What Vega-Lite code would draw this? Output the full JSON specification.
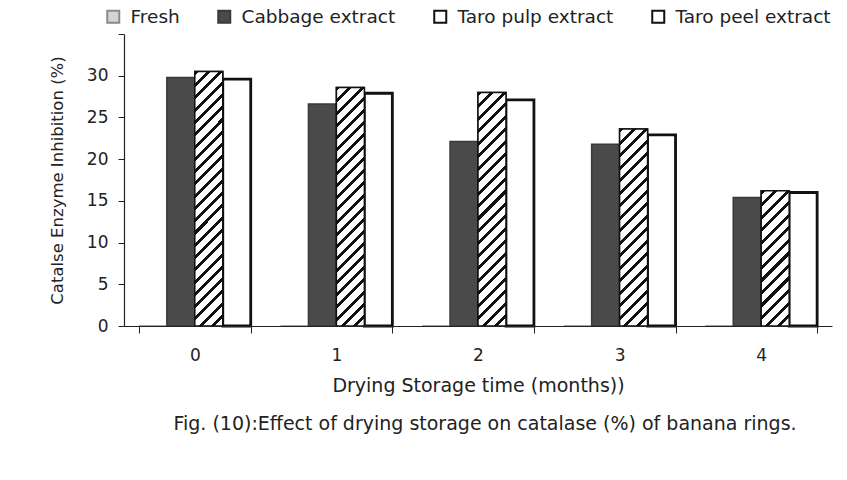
{
  "$schema": "https://vega.github.io/schema/vega-lite/v6.json",
  "width": 708,
  "height": 292,
  "autosize": {"type": "none"},
  "padding": {"left": 124, "top": 34, "right": 15, "bottom": 154},
  "background": "#ffffff",
  "config": {"view": {"stroke": null}, "axis": {"grid": false}, "font": "DejaVu Sans"},
  "title": {"text": "Fig. (10):Effect of drying storage on catalase (%) of banana rings.", "orient": "bottom", "anchor": "middle", "frame": "group", "offset": 20, "dx": 7, "font": "DejaVu Sans", "fontSize": 19, "fontWeight": "normal", "color": "#222"},
  "data": {"values": [
    {"time": 0, "treatment": "Fresh", "value": 0},
    {"time": 0, "treatment": "Cabbage extract", "value": 29.8},
    {"time": 0, "treatment": "Taro pulp extract", "value": 30.5},
    {"time": 0, "treatment": "Taro peel extract", "value": 29.6},
    {"time": 1, "treatment": "Fresh", "value": 0},
    {"time": 1, "treatment": "Cabbage extract", "value": 26.6},
    {"time": 1, "treatment": "Taro pulp extract", "value": 28.6},
    {"time": 1, "treatment": "Taro peel extract", "value": 27.9},
    {"time": 2, "treatment": "Fresh", "value": 0},
    {"time": 2, "treatment": "Cabbage extract", "value": 22.1},
    {"time": 2, "treatment": "Taro pulp extract", "value": 28.0},
    {"time": 2, "treatment": "Taro peel extract", "value": 27.1},
    {"time": 3, "treatment": "Fresh", "value": 0},
    {"time": 3, "treatment": "Cabbage extract", "value": 21.8},
    {"time": 3, "treatment": "Taro pulp extract", "value": 23.6},
    {"time": 3, "treatment": "Taro peel extract", "value": 22.9},
    {"time": 4, "treatment": "Fresh", "value": 0},
    {"time": 4, "treatment": "Cabbage extract", "value": 15.4},
    {"time": 4, "treatment": "Taro pulp extract", "value": 16.2},
    {"time": 4, "treatment": "Taro peel extract", "value": 16.0}
  ]},
  "encoding": {
    "x": {"field": "time", "type": "ordinal", "scale": {"paddingInner": 0.21, "paddingOuter": 0.105},
      "axis": {"title": "Drying Storage time (months))", "labelAngle": 0, "tickBand": "extent", "tickSize": 7, "labelPadding": 14, "labelFont": "DejaVu Sans", "labelFontSize": 17, "labelColor": "#222", "domainColor": "#222", "tickColor": "#222", "domainWidth": 1.2, "titleFont": "DejaVu Sans", "titleFontSize": 19, "titleFontWeight": "normal", "titleColor": "#222", "titlePadding": 13, "zindex": 1}},
    "xOffset": {"field": "treatment", "type": "nominal", "scale": {"domain": ["Fresh", "Cabbage extract", "Taro pulp extract", "Taro peel extract"], "paddingInner": 0, "paddingOuter": 0}},
    "y": {"field": "value", "type": "quantitative", "scale": {"domain": [0, 35], "nice": false},
      "axis": {"title": "Catalse Enzyme Inhibition (%)", "values": [0, 5, 10, 15, 20, 25, 30, 35], "labelExpr": "datum.value == 35 ? '' : datum.label", "tickSize": 6, "labelPadding": 10, "labelFont": "DejaVu Sans", "labelFontSize": 17, "labelColor": "#222", "domainColor": "#222", "tickColor": "#222", "domainWidth": 1.2, "titleFont": "DejaVu Sans", "titleFontSize": 16.5, "titleFontWeight": "normal", "titleColor": "#222", "titlePadding": 21, "zindex": 1}}
  },
  "layer": [
    {
      "mark": {"type": "bar", "strokeWidth": 1.5},
      "encoding": {
        "fill": {"field": "treatment", "type": "nominal", "scale": {"domain": ["Fresh", "Cabbage extract", "Taro pulp extract", "Taro peel extract"], "range": ["#d4d4d4", "#4a4a4a", "#ffffff", "#ffffff"]},
          "legend": {"orient": "none", "legendX": -20, "legendY": -27, "direction": "horizontal", "columns": 4, "title": null, "symbolType": "square", "symbolSize": 144, "symbolStrokeWidth": 2, "labelFont": "DejaVu Sans", "labelFontSize": 18.5, "labelColor": "#222", "labelOffset": 8, "columnPadding": 34, "padding": 0, "labelLimit": 0}},
        "stroke": {"field": "treatment", "type": "nominal", "scale": {"domain": ["Fresh", "Cabbage extract", "Taro pulp extract", "Taro peel extract"], "range": ["#8a8a8a", "#3a3a3a", "#111111", "#111111"]}, "legend": null}
      }
    },
    {
      "transform": [{"filter": "datum.treatment === 'Taro peel extract'"}],
      "mark": {"type": "bar", "fill": "#ffffff", "stroke": "#111", "strokeWidth": 2.8}
    },
    {
      "transform": [{"filter": "datum.treatment === 'Taro pulp extract' && datum.time === 0"}],
      "mark": {"type": "bar", "stroke": "#111", "strokeWidth": 1.5, "fill": {"gradient": "linear", "x1": 0, "y1": 0, "x2": 0.1207, "y2": 1.0967, "stops": [
        {"offset":0,"color":"#111"},{"offset":0.0143,"color":"#111"},{"offset":0.0143,"color":"#fff"},{"offset":0.0435,"color":"#fff"},
        {"offset":0.0435,"color":"#111"},{"offset":0.0578,"color":"#111"},{"offset":0.0578,"color":"#fff"},{"offset":0.087,"color":"#fff"},
        {"offset":0.087,"color":"#111"},{"offset":0.1013,"color":"#111"},{"offset":0.1013,"color":"#fff"},{"offset":0.1304,"color":"#fff"},
        {"offset":0.1304,"color":"#111"},{"offset":0.1447,"color":"#111"},{"offset":0.1447,"color":"#fff"},{"offset":0.1739,"color":"#fff"},
        {"offset":0.1739,"color":"#111"},{"offset":0.1882,"color":"#111"},{"offset":0.1882,"color":"#fff"},{"offset":0.2174,"color":"#fff"},
        {"offset":0.2174,"color":"#111"},{"offset":0.2317,"color":"#111"},{"offset":0.2317,"color":"#fff"},{"offset":0.2609,"color":"#fff"},
        {"offset":0.2609,"color":"#111"},{"offset":0.2752,"color":"#111"},{"offset":0.2752,"color":"#fff"},{"offset":0.3043,"color":"#fff"},
        {"offset":0.3043,"color":"#111"},{"offset":0.3186,"color":"#111"},{"offset":0.3186,"color":"#fff"},{"offset":0.3478,"color":"#fff"},
        {"offset":0.3478,"color":"#111"},{"offset":0.3621,"color":"#111"},{"offset":0.3621,"color":"#fff"},{"offset":0.3913,"color":"#fff"},
        {"offset":0.3913,"color":"#111"},{"offset":0.4056,"color":"#111"},{"offset":0.4056,"color":"#fff"},{"offset":0.4348,"color":"#fff"},
        {"offset":0.4348,"color":"#111"},{"offset":0.4491,"color":"#111"},{"offset":0.4491,"color":"#fff"},{"offset":0.4783,"color":"#fff"},
        {"offset":0.4783,"color":"#111"},{"offset":0.4926,"color":"#111"},{"offset":0.4926,"color":"#fff"},{"offset":0.5217,"color":"#fff"},
        {"offset":0.5217,"color":"#111"},{"offset":0.536,"color":"#111"},{"offset":0.536,"color":"#fff"},{"offset":0.5652,"color":"#fff"},
        {"offset":0.5652,"color":"#111"},{"offset":0.5795,"color":"#111"},{"offset":0.5795,"color":"#fff"},{"offset":0.6087,"color":"#fff"},
        {"offset":0.6087,"color":"#111"},{"offset":0.623,"color":"#111"},{"offset":0.623,"color":"#fff"},{"offset":0.6522,"color":"#fff"},
        {"offset":0.6522,"color":"#111"},{"offset":0.6665,"color":"#111"},{"offset":0.6665,"color":"#fff"},{"offset":0.6957,"color":"#fff"},
        {"offset":0.6957,"color":"#111"},{"offset":0.71,"color":"#111"},{"offset":0.71,"color":"#fff"},{"offset":0.7391,"color":"#fff"},
        {"offset":0.7391,"color":"#111"},{"offset":0.7534,"color":"#111"},{"offset":0.7534,"color":"#fff"},{"offset":0.7826,"color":"#fff"},
        {"offset":0.7826,"color":"#111"},{"offset":0.7969,"color":"#111"},{"offset":0.7969,"color":"#fff"},{"offset":0.8261,"color":"#fff"},
        {"offset":0.8261,"color":"#111"},{"offset":0.8404,"color":"#111"},{"offset":0.8404,"color":"#fff"},{"offset":0.8696,"color":"#fff"},
        {"offset":0.8696,"color":"#111"},{"offset":0.8839,"color":"#111"},{"offset":0.8839,"color":"#fff"},{"offset":0.913,"color":"#fff"},
        {"offset":0.913,"color":"#111"},{"offset":0.9273,"color":"#111"},{"offset":0.9273,"color":"#fff"},{"offset":0.9565,"color":"#fff"},
        {"offset":0.9565,"color":"#111"},{"offset":0.9708,"color":"#111"},{"offset":0.9708,"color":"#fff"},{"offset":1,"color":"#fff"}]}}
    },
    {
      "transform": [{"filter": "datum.treatment === 'Taro pulp extract' && datum.time === 1"}],
      "mark": {"type": "bar", "stroke": "#111", "strokeWidth": 1.5, "fill": {"gradient": "linear", "x1": 0, "y1": 0, "x2": 0.1293, "y2": 1.1022, "stops": [
        {"offset":0,"color":"#111"},{"offset":0.015,"color":"#111"},{"offset":0.015,"color":"#fff"},{"offset":0.0455,"color":"#fff"},
        {"offset":0.0455,"color":"#111"},{"offset":0.0605,"color":"#111"},{"offset":0.0605,"color":"#fff"},{"offset":0.0909,"color":"#fff"},
        {"offset":0.0909,"color":"#111"},{"offset":0.1059,"color":"#111"},{"offset":0.1059,"color":"#fff"},{"offset":0.1364,"color":"#fff"},
        {"offset":0.1364,"color":"#111"},{"offset":0.1514,"color":"#111"},{"offset":0.1514,"color":"#fff"},{"offset":0.1818,"color":"#fff"},
        {"offset":0.1818,"color":"#111"},{"offset":0.1968,"color":"#111"},{"offset":0.1968,"color":"#fff"},{"offset":0.2273,"color":"#fff"},
        {"offset":0.2273,"color":"#111"},{"offset":0.2423,"color":"#111"},{"offset":0.2423,"color":"#fff"},{"offset":0.2727,"color":"#fff"},
        {"offset":0.2727,"color":"#111"},{"offset":0.2877,"color":"#111"},{"offset":0.2877,"color":"#fff"},{"offset":0.3182,"color":"#fff"},
        {"offset":0.3182,"color":"#111"},{"offset":0.3332,"color":"#111"},{"offset":0.3332,"color":"#fff"},{"offset":0.3636,"color":"#fff"},
        {"offset":0.3636,"color":"#111"},{"offset":0.3786,"color":"#111"},{"offset":0.3786,"color":"#fff"},{"offset":0.4091,"color":"#fff"},
        {"offset":0.4091,"color":"#111"},{"offset":0.4241,"color":"#111"},{"offset":0.4241,"color":"#fff"},{"offset":0.4545,"color":"#fff"},
        {"offset":0.4545,"color":"#111"},{"offset":0.4695,"color":"#111"},{"offset":0.4695,"color":"#fff"},{"offset":0.5,"color":"#fff"},
        {"offset":0.5,"color":"#111"},{"offset":0.515,"color":"#111"},{"offset":0.515,"color":"#fff"},{"offset":0.5455,"color":"#fff"},
        {"offset":0.5455,"color":"#111"},{"offset":0.5605,"color":"#111"},{"offset":0.5605,"color":"#fff"},{"offset":0.5909,"color":"#fff"},
        {"offset":0.5909,"color":"#111"},{"offset":0.6059,"color":"#111"},{"offset":0.6059,"color":"#fff"},{"offset":0.6364,"color":"#fff"},
        {"offset":0.6364,"color":"#111"},{"offset":0.6514,"color":"#111"},{"offset":0.6514,"color":"#fff"},{"offset":0.6818,"color":"#fff"},
        {"offset":0.6818,"color":"#111"},{"offset":0.6968,"color":"#111"},{"offset":0.6968,"color":"#fff"},{"offset":0.7273,"color":"#fff"},
        {"offset":0.7273,"color":"#111"},{"offset":0.7423,"color":"#111"},{"offset":0.7423,"color":"#fff"},{"offset":0.7727,"color":"#fff"},
        {"offset":0.7727,"color":"#111"},{"offset":0.7877,"color":"#111"},{"offset":0.7877,"color":"#fff"},{"offset":0.8182,"color":"#fff"},
        {"offset":0.8182,"color":"#111"},{"offset":0.8332,"color":"#111"},{"offset":0.8332,"color":"#fff"},{"offset":0.8636,"color":"#fff"},
        {"offset":0.8636,"color":"#111"},{"offset":0.8786,"color":"#111"},{"offset":0.8786,"color":"#fff"},{"offset":0.9091,"color":"#fff"},
        {"offset":0.9091,"color":"#111"},{"offset":0.9241,"color":"#111"},{"offset":0.9241,"color":"#fff"},{"offset":0.9545,"color":"#fff"},
        {"offset":0.9545,"color":"#111"},{"offset":0.9695,"color":"#111"},{"offset":0.9695,"color":"#fff"},{"offset":1,"color":"#fff"}]}}
    },
    {
      "transform": [{"filter": "datum.treatment === 'Taro pulp extract' && datum.time === 2"}],
      "mark": {"type": "bar", "stroke": "#111", "strokeWidth": 1.5, "fill": {"gradient": "linear", "x1": 0, "y1": 0, "x2": 0.1323, "y2": 1.104, "stops": [
        {"offset":0,"color":"#111"},{"offset":0.0157,"color":"#111"},{"offset":0.0157,"color":"#fff"},{"offset":0.0476,"color":"#fff"},
        {"offset":0.0476,"color":"#111"},{"offset":0.0633,"color":"#111"},{"offset":0.0633,"color":"#fff"},{"offset":0.0952,"color":"#fff"},
        {"offset":0.0952,"color":"#111"},{"offset":0.1109,"color":"#111"},{"offset":0.1109,"color":"#fff"},{"offset":0.1429,"color":"#fff"},
        {"offset":0.1429,"color":"#111"},{"offset":0.1586,"color":"#111"},{"offset":0.1586,"color":"#fff"},{"offset":0.1905,"color":"#fff"},
        {"offset":0.1905,"color":"#111"},{"offset":0.2062,"color":"#111"},{"offset":0.2062,"color":"#fff"},{"offset":0.2381,"color":"#fff"},
        {"offset":0.2381,"color":"#111"},{"offset":0.2538,"color":"#111"},{"offset":0.2538,"color":"#fff"},{"offset":0.2857,"color":"#fff"},
        {"offset":0.2857,"color":"#111"},{"offset":0.3014,"color":"#111"},{"offset":0.3014,"color":"#fff"},{"offset":0.3333,"color":"#fff"},
        {"offset":0.3333,"color":"#111"},{"offset":0.349,"color":"#111"},{"offset":0.349,"color":"#fff"},{"offset":0.381,"color":"#fff"},
        {"offset":0.381,"color":"#111"},{"offset":0.3967,"color":"#111"},{"offset":0.3967,"color":"#fff"},{"offset":0.4286,"color":"#fff"},
        {"offset":0.4286,"color":"#111"},{"offset":0.4443,"color":"#111"},{"offset":0.4443,"color":"#fff"},{"offset":0.4762,"color":"#fff"},
        {"offset":0.4762,"color":"#111"},{"offset":0.4919,"color":"#111"},{"offset":0.4919,"color":"#fff"},{"offset":0.5238,"color":"#fff"},
        {"offset":0.5238,"color":"#111"},{"offset":0.5395,"color":"#111"},{"offset":0.5395,"color":"#fff"},{"offset":0.5714,"color":"#fff"},
        {"offset":0.5714,"color":"#111"},{"offset":0.5871,"color":"#111"},{"offset":0.5871,"color":"#fff"},{"offset":0.619,"color":"#fff"},
        {"offset":0.619,"color":"#111"},{"offset":0.6347,"color":"#111"},{"offset":0.6347,"color":"#fff"},{"offset":0.6667,"color":"#fff"},
        {"offset":0.6667,"color":"#111"},{"offset":0.6824,"color":"#111"},{"offset":0.6824,"color":"#fff"},{"offset":0.7143,"color":"#fff"},
        {"offset":0.7143,"color":"#111"},{"offset":0.73,"color":"#111"},{"offset":0.73,"color":"#fff"},{"offset":0.7619,"color":"#fff"},
        {"offset":0.7619,"color":"#111"},{"offset":0.7776,"color":"#111"},{"offset":0.7776,"color":"#fff"},{"offset":0.8095,"color":"#fff"},
        {"offset":0.8095,"color":"#111"},{"offset":0.8252,"color":"#111"},{"offset":0.8252,"color":"#fff"},{"offset":0.8571,"color":"#fff"},
        {"offset":0.8571,"color":"#111"},{"offset":0.8728,"color":"#111"},{"offset":0.8728,"color":"#fff"},{"offset":0.9048,"color":"#fff"},
        {"offset":0.9048,"color":"#111"},{"offset":0.9205,"color":"#111"},{"offset":0.9205,"color":"#fff"},{"offset":0.9524,"color":"#fff"},
        {"offset":0.9524,"color":"#111"},{"offset":0.9681,"color":"#111"},{"offset":0.9681,"color":"#fff"},{"offset":1,"color":"#fff"}]}}
    },
    {
      "transform": [{"filter": "datum.treatment === 'Taro pulp extract' && datum.time === 3"}],
      "mark": {"type": "bar", "stroke": "#111", "strokeWidth": 1.5, "fill": {"gradient": "linear", "x1": 0, "y1": 0, "x2": 0.1592, "y2": 1.1196, "stops": [
        {"offset":0,"color":"#111"},{"offset":0.0183,"color":"#111"},{"offset":0.0183,"color":"#fff"},{"offset":0.0556,"color":"#fff"},
        {"offset":0.0556,"color":"#111"},{"offset":0.0739,"color":"#111"},{"offset":0.0739,"color":"#fff"},{"offset":0.1111,"color":"#fff"},
        {"offset":0.1111,"color":"#111"},{"offset":0.1294,"color":"#111"},{"offset":0.1294,"color":"#fff"},{"offset":0.1667,"color":"#fff"},
        {"offset":0.1667,"color":"#111"},{"offset":0.185,"color":"#111"},{"offset":0.185,"color":"#fff"},{"offset":0.2222,"color":"#fff"},
        {"offset":0.2222,"color":"#111"},{"offset":0.2405,"color":"#111"},{"offset":0.2405,"color":"#fff"},{"offset":0.2778,"color":"#fff"},
        {"offset":0.2778,"color":"#111"},{"offset":0.2961,"color":"#111"},{"offset":0.2961,"color":"#fff"},{"offset":0.3333,"color":"#fff"},
        {"offset":0.3333,"color":"#111"},{"offset":0.3516,"color":"#111"},{"offset":0.3516,"color":"#fff"},{"offset":0.3889,"color":"#fff"},
        {"offset":0.3889,"color":"#111"},{"offset":0.4072,"color":"#111"},{"offset":0.4072,"color":"#fff"},{"offset":0.4444,"color":"#fff"},
        {"offset":0.4444,"color":"#111"},{"offset":0.4627,"color":"#111"},{"offset":0.4627,"color":"#fff"},{"offset":0.5,"color":"#fff"},
        {"offset":0.5,"color":"#111"},{"offset":0.5183,"color":"#111"},{"offset":0.5183,"color":"#fff"},{"offset":0.5556,"color":"#fff"},
        {"offset":0.5556,"color":"#111"},{"offset":0.5739,"color":"#111"},{"offset":0.5739,"color":"#fff"},{"offset":0.6111,"color":"#fff"},
        {"offset":0.6111,"color":"#111"},{"offset":0.6294,"color":"#111"},{"offset":0.6294,"color":"#fff"},{"offset":0.6667,"color":"#fff"},
        {"offset":0.6667,"color":"#111"},{"offset":0.685,"color":"#111"},{"offset":0.685,"color":"#fff"},{"offset":0.7222,"color":"#fff"},
        {"offset":0.7222,"color":"#111"},{"offset":0.7405,"color":"#111"},{"offset":0.7405,"color":"#fff"},{"offset":0.7778,"color":"#fff"},
        {"offset":0.7778,"color":"#111"},{"offset":0.7961,"color":"#111"},{"offset":0.7961,"color":"#fff"},{"offset":0.8333,"color":"#fff"},
        {"offset":0.8333,"color":"#111"},{"offset":0.8516,"color":"#111"},{"offset":0.8516,"color":"#fff"},{"offset":0.8889,"color":"#fff"},
        {"offset":0.8889,"color":"#111"},{"offset":0.9072,"color":"#111"},{"offset":0.9072,"color":"#fff"},{"offset":0.9444,"color":"#fff"},
        {"offset":0.9444,"color":"#111"},{"offset":0.9627,"color":"#111"},{"offset":0.9627,"color":"#fff"},{"offset":1,"color":"#fff"}]}}
    },
    {
      "transform": [{"filter": "datum.treatment === 'Taro pulp extract' && datum.time === 4"}],
      "mark": {"type": "bar", "stroke": "#111", "strokeWidth": 1.5, "fill": {"gradient": "linear", "x1": 0, "y1": 0, "x2": 0.2397, "y2": 1.1575, "stops": [
        {"offset":0,"color":"#111"},{"offset":0.0254,"color":"#111"},{"offset":0.0254,"color":"#fff"},{"offset":0.0769,"color":"#fff"},
        {"offset":0.0769,"color":"#111"},{"offset":0.1023,"color":"#111"},{"offset":0.1023,"color":"#fff"},{"offset":0.1538,"color":"#fff"},
        {"offset":0.1538,"color":"#111"},{"offset":0.1792,"color":"#111"},{"offset":0.1792,"color":"#fff"},{"offset":0.2308,"color":"#fff"},
        {"offset":0.2308,"color":"#111"},{"offset":0.2562,"color":"#111"},{"offset":0.2562,"color":"#fff"},{"offset":0.3077,"color":"#fff"},
        {"offset":0.3077,"color":"#111"},{"offset":0.3331,"color":"#111"},{"offset":0.3331,"color":"#fff"},{"offset":0.3846,"color":"#fff"},
        {"offset":0.3846,"color":"#111"},{"offset":0.41,"color":"#111"},{"offset":0.41,"color":"#fff"},{"offset":0.4615,"color":"#fff"},
        {"offset":0.4615,"color":"#111"},{"offset":0.4869,"color":"#111"},{"offset":0.4869,"color":"#fff"},{"offset":0.5385,"color":"#fff"},
        {"offset":0.5385,"color":"#111"},{"offset":0.5639,"color":"#111"},{"offset":0.5639,"color":"#fff"},{"offset":0.6154,"color":"#fff"},
        {"offset":0.6154,"color":"#111"},{"offset":0.6408,"color":"#111"},{"offset":0.6408,"color":"#fff"},{"offset":0.6923,"color":"#fff"},
        {"offset":0.6923,"color":"#111"},{"offset":0.7177,"color":"#111"},{"offset":0.7177,"color":"#fff"},{"offset":0.7692,"color":"#fff"},
        {"offset":0.7692,"color":"#111"},{"offset":0.7946,"color":"#111"},{"offset":0.7946,"color":"#fff"},{"offset":0.8462,"color":"#fff"},
        {"offset":0.8462,"color":"#111"},{"offset":0.8716,"color":"#111"},{"offset":0.8716,"color":"#fff"},{"offset":0.9231,"color":"#fff"},
        {"offset":0.9231,"color":"#111"},{"offset":0.9485,"color":"#111"},{"offset":0.9485,"color":"#fff"},{"offset":1,"color":"#fff"}]}}
    }
  ]
}
